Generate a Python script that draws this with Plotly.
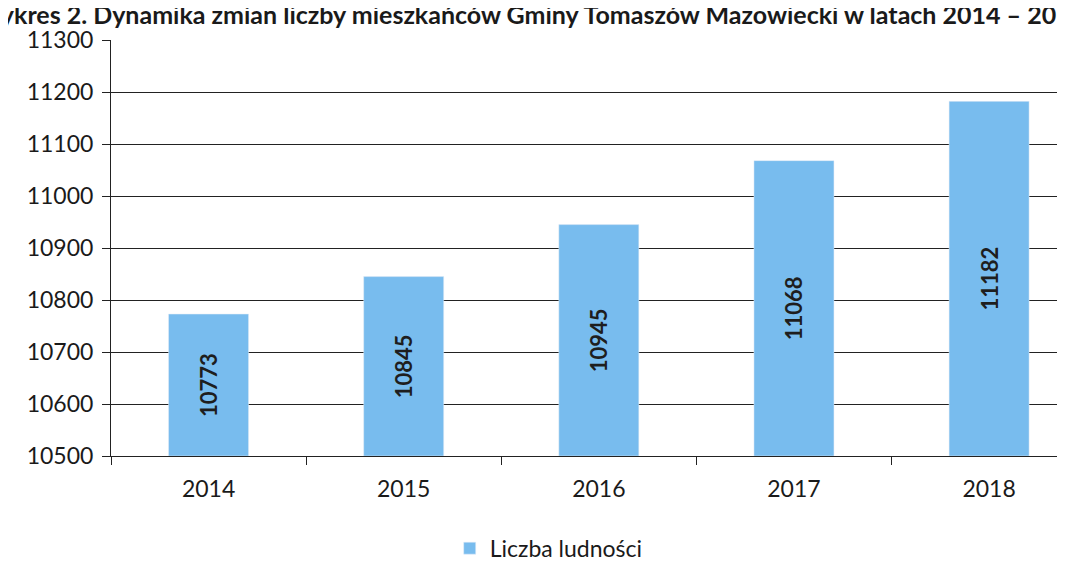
import plotly.graph_objects as go

# dane
lata = ["2014", "2015", "2016", "2017", "2018"]
ludnosc = [10773, 10845, 10945, 11068, 11182]
y_ticks = [10500, 10600, 10700, 10800, 10900, 11000, 11100, 11200, 11300]
y_min = 10500

fig = go.Figure()

# slupki zaczynaja sie od 10500 (os nie startuje od zera)
fig.add_trace(go.Bar(
    x=lata, y=[v - y_min for v in ludnosc], base=y_min, name="Liczba ludności",
    marker=dict(color="#78bcee"),
    text=[f"<b>{v}</b>" for v in ludnosc],
    textposition="inside", textangle=-90, constraintext="none",
    insidetextanchor="middle",
    textfont=dict(family="Lato", size=22, color="#1e1e1e"),
    hovertemplate="%{x}: %{text}<extra></extra>",
    showlegend=True,
))

# tytul (obciety u gory jak na skanie)
fig.add_annotation(
    text="<b>Wykres 2. Dynamika zmian liczby mieszkańców Gminy Tomaszów Mazowiecki w latach 2014 – 2018</b>",
    xref="paper", yref="paper", x=1.0, y=1.0, xanchor="right", yanchor="bottom",
    xshift=14, yshift=9, showarrow=False,
    font=dict(family="Lato", size=25, color="#1a1a1a"),
)

fig.update_layout(
    width=1065, height=562,
    margin=dict(l=103, r=0, t=32, b=104),
    paper_bgcolor="white", plot_bgcolor="white",
    font=dict(family="Lato", size=23, color="#1a1a1a"),
    bargap=0.59,
    legend=dict(orientation="h", x=0.455, xanchor="center", y=-0.17, yanchor="top",
                font=dict(size=23)),
    xaxis=dict(
        range=[-0.5, 4.43], tickson="boundaries", ticks="outside", ticklen=8,
        tickcolor="#222", showline=True, linecolor="#222", linewidth=1,
        ticklabelstandoff=12, showgrid=False,
    ),
    yaxis=dict(
        range=[10500, 11300], tickvals=y_ticks, tickformat="d", ticks="outside", ticklen=8,
        tickcolor="#222", showline=True, linecolor="#222", linewidth=1,
        showgrid=True, gridcolor="#222", gridwidth=1, zeroline=False,
        ticklabelstandoff=4,
    ),
)

fig.write_html("out.html")
